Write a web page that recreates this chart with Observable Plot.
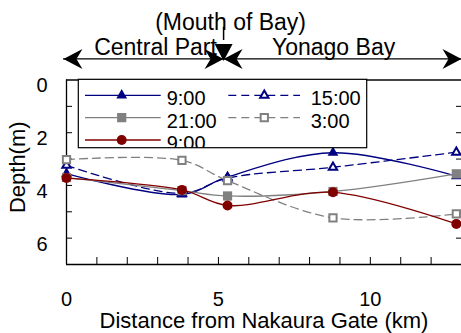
<!DOCTYPE html>
<html><head><meta charset="utf-8">
<script src="https://cdn.jsdelivr.net/npm/d3@7"></script>
<script src="https://cdn.jsdelivr.net/npm/@observablehq/plot@0.6"></script>
<style>body{margin:0;background:#fff} svg{display:block}</style>
</head><body><div id="chart"></div>
<script>
// ---- data ----
const distance   = [0, 3.8, 5.3, 8.77, 12.83];          // km from Nakaura Gate
const depth0900a = [3.55, 4.34, 3.68, 2.76, 3.65];
const depth1500  = [3.24, 4.30, 3.72, 3.31, 2.74];
const depth2100  = [3.70, 4.20, 4.40, 4.23, 3.56];
const depth0300  = [3.02, 3.05, 3.82, 5.23, 5.08];
const depth0900b = [3.72, 4.17, 4.76, 4.26, 5.46];
const seriesNames = ["9:00", "15:00", "21:00", "3:00", "9:00"];
const xTickLabels = [0, 5, 10];
const yTickLabels = [0, 2, 4, 6];
const xTitle = "Distance from Nakaura Gate (km)";
const yTitle = "Depth(m)";
const regionLabels = ["Central Part", "Yonago Bay"];
const regionCenters = [2.93, 8.79];
const mouthLabel = "(Mouth of Bay)";
const mouthKm = 5.17;
const regionExtent = [-0.1, 13];

const values = [depth0900a, depth1500, depth2100, depth0300, depth0900b];
const styles = [
  {stroke: "#000080", dash: null,  symbol: d3.symbolTriangle, r: 4,   fill: "#000080", sw: 0},
  {stroke: "#000080", dash: "8,5", symbol: d3.symbolTriangle, r: 3.1, fill: "white",   sw: 2},
  {stroke: "#808080", dash: null,  symbol: d3.symbolSquare,   r: 5.2, fill: "#808080", sw: 0},
  {stroke: "#808080", dash: "8,5", symbol: d3.symbolSquare,   r: 4.1, fill: "white",   sw: 2},
  {stroke: "#800000", dash: null,  symbol: d3.symbolCircle,   r: 5,   fill: "#800000", sw: 0}
];
const series = values.map((v, k) => distance.map((d, i) => ({k, x: d, y: v[i]})));

// arrowhead symbols
const stealth = {draw(c) { c.moveTo(0, 0); c.lineTo(10, 19); c.lineTo(0, 13); c.lineTo(-10, 19); c.closePath(); }};
const downTri = {draw(c) { c.moveTo(0, 0); c.lineTo(-9, -17); c.lineTo(9, -17); c.closePath(); }};

const yAnn = -0.80, yRegionText = -0.93, yMouthText = -1.9;
const heads = [
  {x: regionExtent[0], rot: -90}, {x: mouthKm, rot: 90},
  {x: mouthKm, rot: -90}, {x: regionExtent[1], rot: 90}
];

const marks = [
  // frame
  Plot.ruleY([0], {stroke: "#444", strokeWidth: 2}),
  Plot.ruleY([7], {stroke: "black", strokeWidth: 1.3}),
  Plot.ruleX([0], {stroke: "black", strokeWidth: 1.3}),
  // axes
  Plot.axisX({ticks: d3.range(1, 13), tickSize: -7, text: null, label: null, stroke: "black"}),
  Plot.axisX({ticks: xTickLabels, tickSize: 0, tickPadding: 27, fontSize: 20, fill: "black", label: null, tickFormat: d3.format("d")}),
  Plot.axisY({ticks: d3.range(1, 7), tickSize: -6, text: null, label: null, stroke: "black"}),
  Plot.axisY({anchor: "right", ticks: d3.range(1, 7), tickSize: -6, text: null, label: null, stroke: "black"}),
  Plot.axisY({ticks: yTickLabels, tickSize: 0, tickPadding: 19, dy: 6, fontSize: 20, fill: "black", label: null, tickFormat: d3.format("d")}),
  Plot.text([xTitle], {frameAnchor: "bottom", dy: 63, lineAnchor: "bottom", fontSize: 22, fill: "black"}),
  Plot.text([yTitle], {frameAnchor: "left", textAnchor: "middle", dx: -42, dy: -5, rotate: -90, lineAnchor: "bottom", fontSize: 22, fill: "black"}),
  // series
  ...series.flatMap((rows, k) => [
    Plot.line(rows, {x: "x", y: "y", stroke: styles[k].stroke, strokeWidth: 1.3,
      strokeDasharray: styles[k].dash, curve: "catmull-rom"}),
    Plot.dot(rows, {x: "x", y: "y", symbol: styles[k].symbol, r: styles[k].r,
      fill: styles[k].fill, stroke: styles[k].stroke, strokeWidth: styles[k].sw})
  ]),
  // annotations
  Plot.ruleY([yAnn], {x1: regionExtent[0], x2: regionExtent[1], stroke: "black", strokeWidth: 1.3}),
  Plot.dot(heads, {x: "x", y: () => yAnn, rotate: "rot", symbol: () => stealth, fill: "black", stroke: "none"}),
  Plot.ruleX([mouthKm], {y1: -2.0, y2: -1.5, stroke: "black", strokeWidth: 1.5}),
  Plot.dot([mouthKm], {x: d => d, y: () => yAnn + 0.08, symbol: () => downTri, fill: "black", stroke: "none"}),
  Plot.text(regionLabels, {x: (d, i) => regionCenters[i], y: () => yRegionText, lineAnchor: "bottom", fontSize: 23, fill: "black"}),
  Plot.text([mouthLabel], {x: () => 5.4, y: () => yMouthText, lineAnchor: "bottom", fontSize: 23, fill: "black"})
];

const svg = Plot.plot({
  width: 461, height: 333,
  marginLeft: 66, marginRight: 0, marginTop: 79.5, marginBottom: 69,
  style: {fontFamily: "'Liberation Sans', Arial, sans-serif", fontSize: "20px", background: "white", color: "black", overflow: "visible"},
  x: {domain: [0, 13], label: null},
  y: {domain: [0, 7], reverse: true, label: null},
  marks
});
document.getElementById("chart").appendChild(svg);

// ---- legend (clipped box at top-left of the plot area) ----
const L = {x: 78.3, y: 79.3, w: 288.4, h: 68.4};
const cols = [{x1: 6.7, x2: 82.4, mx: 43.4, tx: 88.4}, {x1: 150, x2: 221.7, mx: 186, tx: 232.4}];
const rowY = [16, 38.4, 60.7];
const slots = [[0, 0], [1, 0], [0, 1], [1, 1], [0, 2]];
const root = d3.select(svg);
const lg = root.append("svg").attr("x", L.x).attr("y", L.y).attr("width", L.w).attr("height", L.h).attr("overflow", "hidden");
lg.append("rect").attr("width", L.w).attr("height", L.h).attr("fill", "white");
seriesNames.forEach((name, k) => {
  const [c, r] = slots[k], col = cols[c], y = rowY[r], s = styles[k];
  lg.append("line").attr("x1", col.x1).attr("x2", col.x2).attr("y1", y).attr("y2", y)
    .attr("stroke", s.stroke).attr("stroke-width", 1.3).attr("stroke-dasharray", s.dash);
  lg.append("path").attr("d", d3.symbol().type(s.symbol).size(Math.PI * s.r * s.r)())
    .attr("transform", `translate(${col.mx},${y})`).attr("fill", s.fill)
    .attr("stroke", s.sw ? s.stroke : "none").attr("stroke-width", s.sw);
  lg.append("text").attr("x", col.tx).attr("y", y + 10).attr("font-size", 20)
    .attr("text-anchor", "start").attr("fill", "black").text(name);
});
root.append("rect").attr("x", L.x).attr("y", L.y).attr("width", L.w).attr("height", L.h)
  .attr("fill", "none").attr("stroke", "black").attr("stroke-width", 1.2);
</script></body></html>
